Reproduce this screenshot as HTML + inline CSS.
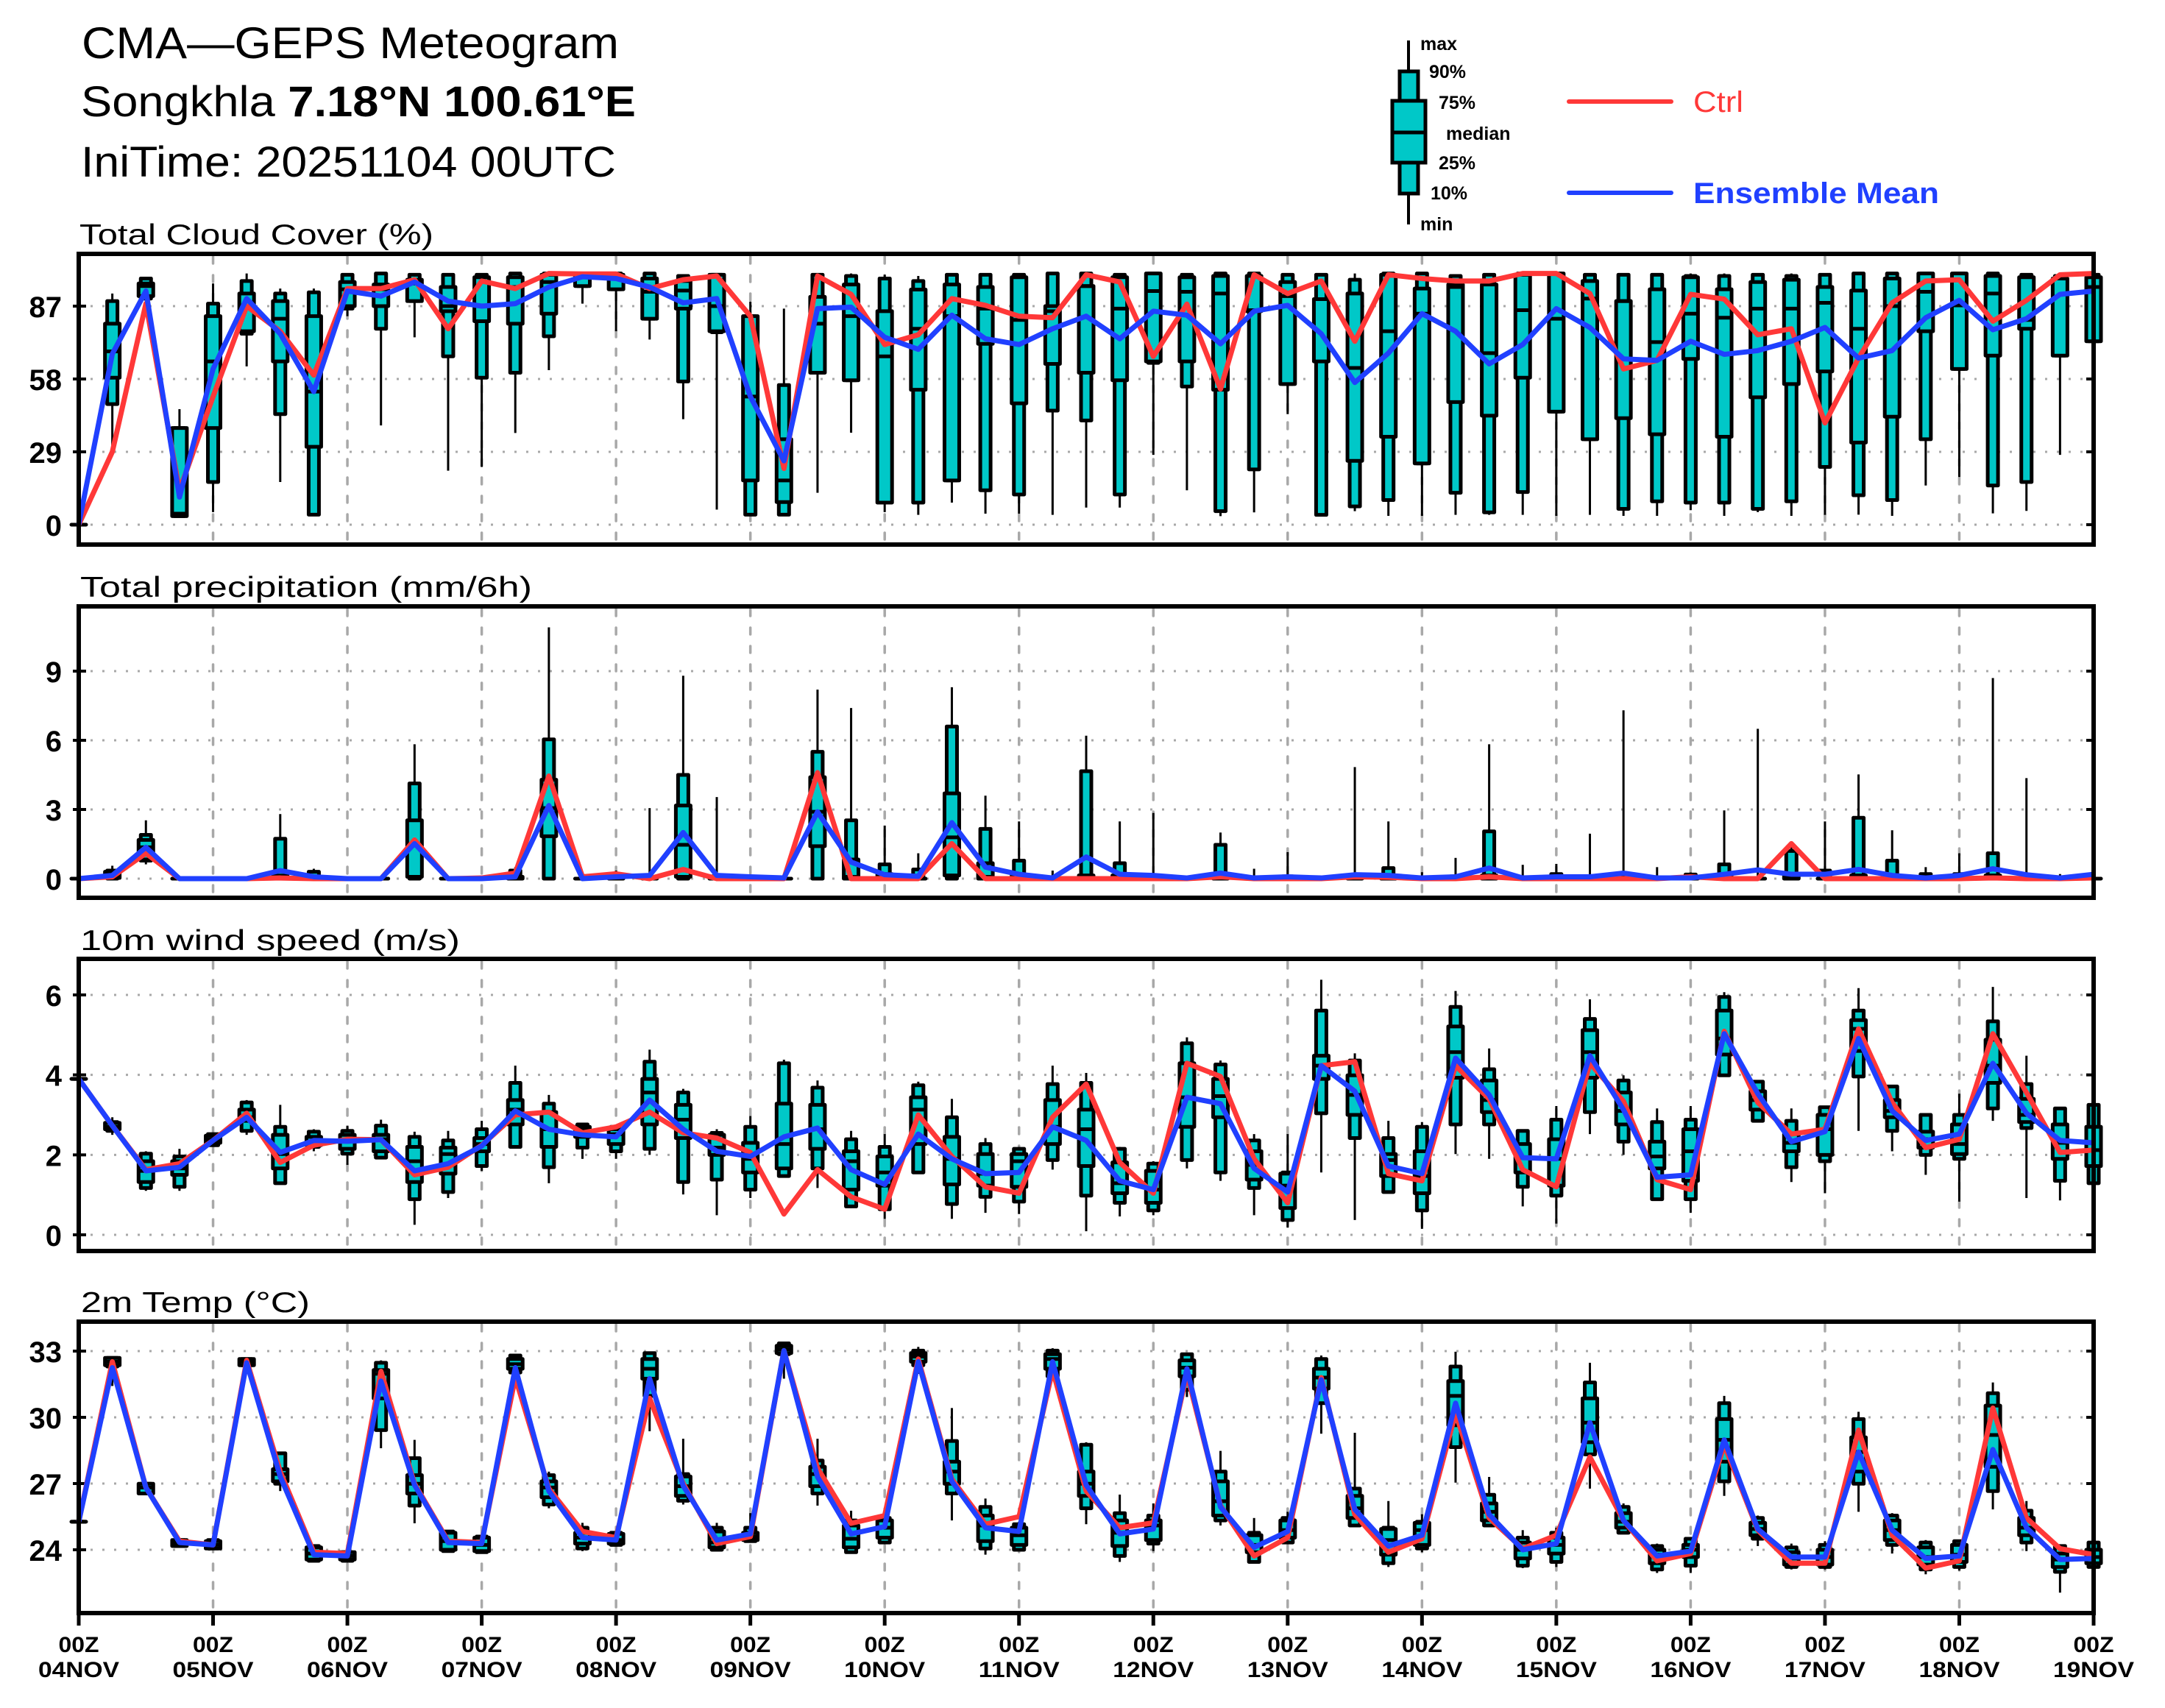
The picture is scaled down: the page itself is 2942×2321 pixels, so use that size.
<!DOCTYPE html>
<html>
<head>
<meta charset="utf-8">
<style>
html,body{margin:0;padding:0;background:#fff;}
svg{display:block;}
text{font-family:"Liberation Sans",sans-serif;}
</style>
</head>
<body>
<svg id="chart" xmlns="http://www.w3.org/2000/svg" width="2942" height="2321" viewBox="0 0 2942 2321">
<rect x="0" y="0" width="2942" height="2321" fill="#fff"/>
<text x="111" y="79" font-size="60" textLength="730" lengthAdjust="spacingAndGlyphs">CMA—GEPS  Meteogram</text>
<text x="110" y="158" font-size="58" textLength="754" lengthAdjust="spacingAndGlyphs">Songkhla <tspan font-weight="bold">7.18°N 100.61°E</tspan></text>
<text x="110" y="240" font-size="58" textLength="727" lengthAdjust="spacingAndGlyphs">IniTime: 20251104 00UTC</text>
<text x="108" y="332" font-size="39" textLength="481" lengthAdjust="spacingAndGlyphs">Total Cloud Cover (%)</text>
<text x="109" y="811" font-size="39" textLength="614" lengthAdjust="spacingAndGlyphs">Total precipitation (mm/6h)</text>
<text x="109" y="1291" font-size="39" textLength="516" lengthAdjust="spacingAndGlyphs">10m wind speed (m/s)</text>
<text x="110" y="1783" font-size="39" textLength="311" lengthAdjust="spacingAndGlyphs">2m Temp (°C)</text>
<g>
  <line x1="1914" y1="55" x2="1914" y2="305" stroke="#000" stroke-width="4"/>
  <rect x="1902" y="97" width="25" height="166" fill="#00c8c8" stroke="#000" stroke-width="5"/>
  <rect x="1892" y="137" width="45" height="84" fill="#00c8c8" stroke="#000" stroke-width="5"/>
  <line x1="1892" y1="180" x2="1937" y2="180" stroke="#000" stroke-width="5"/>
  <text x="1930" y="68" font-size="25" font-weight="bold">max</text>
  <text x="1942" y="106" font-size="25" font-weight="bold">90%</text>
  <text x="1955" y="148" font-size="25" font-weight="bold">75%</text>
  <text x="1965" y="190" font-size="25" font-weight="bold">median</text>
  <text x="1955" y="230" font-size="25" font-weight="bold">25%</text>
  <text x="1944" y="271" font-size="25" font-weight="bold">10%</text>
  <text x="1930" y="313" font-size="25" font-weight="bold">min</text>
</g>
<g>
  <line x1="2132" y1="138" x2="2271" y2="138" stroke="#ff3838" stroke-width="6" stroke-linecap="round"/>
  <text x="2301" y="152" font-size="40" fill="#ff3838" textLength="68" lengthAdjust="spacingAndGlyphs">Ctrl</text>
  <line x1="2132" y1="262" x2="2271" y2="262" stroke="#2040ff" stroke-width="6" stroke-linecap="round"/>
  <text x="2301" y="276" font-size="40" fill="#2040ff" font-weight="bold" textLength="334" lengthAdjust="spacingAndGlyphs">Ensemble Mean</text>
</g>
</svg>
<script>
// ---------- time axis ----------
const dayLabels = ["04NOV","05NOV","06NOV","07NOV","08NOV","09NOV","10NOV","11NOV","12NOV","13NOV","14NOV","15NOV","16NOV","17NOV","18NOV","19NOV"];
// ---------- cloud cover (%) ----------
const cloudTicks = [0,29,58,87];
const cloudMax = [0,92,98.5,46,96,100,94,94,100,100, 100,100,100,100,100,100,100,100,99.5,100, 88.8,86,100,100,99.5,99,100,100,100,100, 100,100,100,100,100,100,100,100,100,100, 100,99.7,100,100,100,100,100,100,100,100, 100,100,100,100,100,100,100,100,100,100,100];
const cloudP90 = [0,89,98,38.5,88,97,92,92.5,99.5,100, 99.5,99.5,99.5,100,100,100,100,100,99,99.5, 83,55.6,99.5,99,98,97,99.5,99.5,99.5,100, 100,99.5,100,99.5,100,100,99.5,99.5,97.5,100, 100,99,99.5,100,100,99.5,99.5,99.5,99,99, 99.5,99,99.5,100,100,100,100,100,99.5,99,99.5];
const cloudP75 = [0,80,96,38.5,83,92,89,83,96.6,95.6, 97.5,94.6,98.5,98.5,99.5,99.5,99.5,98,97,99.5, 83,34,90.7,95.6,85,93.6,95.6,94.6,98.5,87, 95,98.5,100,98.5,99,99,96.6,89.8,92,99.5, 94,95.6,95.6,99.5,100,97,89,93.7,98.5,93.7, 96.6,97.5,94.6,93.2,98,100,100,99,98.5,98,98.5];
const cloudMed = [0,69,95,4.4,65,87,82,53,93.7,93.7, 96,87,87,94.6,96.6,98.5,98.5,92.7,93.2,87, 51,17.6,80,83,67,78,83,86,81.5,85, 95,86,93,92.7,92,85.4,91,89.8,62.4,77, 84,94.6,68.3,85.4,82,90,89,72.7,84,82.4, 86,86,88.3,78,87,92.7,87.3,92,81.5,98,94.6];
const cloudP25 = [0,58.5,91,3.4,38.5,77,65,31,87,87, 89,85,81,80,84,95,93.7,82,86,77, 17.6,9,60.5,57.5,8.8,53.7,17.6,72,48.3,64, 60.5,57.5,65,65,53.7,85,56,65,25.4,35, 24.4,48.8,43.4,58.5,45,34,42.4,36,66,35, 50.7,56,61,32.7,43,77,62,67.3,78,67.3,73];
const cloudP10 = [0,48,90,3.4,17,76,44,4,86,78, 89,67,58.5,60.5,75,95,93.7,82,57,76.6, 4,4,60.5,57.5,8.8,8.8,17.6,13.7,12,45.4, 41.5,12,64.4,55,5.4,22,56,3.9,7.3,9.8, 24.4,12.7,4.9,13,45,34,6.3,9.3,8.8,8.8, 6.3,9.3,23,11.7,9.8,34,62,15.6,17,67.3,73];
const cloudMin = [0,30,87,3,5,63,17,3.4,83,39.5, 74.6,21.5,23,36.5,61.5,88,77,73.7,42,6, 3.4,3.4,12.7,36.6,5,3.9,8.8,4.4,4.4,3.9, 6.8,6.8,27.8,13.7,3.4,4.9,44,3.5,5.4,3.5, 3.5,3.9,3.9,3.9,3.5,3.9,3.5,3.5,5.8,3.5, 5,3.5,3.9,4,3.5,15.6,19,4.5,5.5,27.8,73];
const cloudCtrl = [0,29,88,13.6,51,87,77,59.5,94,94, 97.5,78,97,94,100,99.8,99.8,94,97.5,99, 83,22.4,99,91.7,71.7,75.6,90,87.3,83,82.4, 99.5,96.6,67,87.8,54,99.5,92,97,73,99.5, 98,97,97,100,100,92,62,65.4,91.7,89.8, 75.6,78,40.5,66.3,88.3,97,97.5,81,89.3,99.5,100];
const cloudMean = [0,68,93,11,62,90,76,53,93,91, 96.6,89,87,88,94.6,98.7,98,94.6,88.3,90, 51,25.4,86,86.6,74.6,69.8,83.4,74,71.7,78, 83,74,85,83.4,72,85,87.3,76,56.6,68.3, 84,77,64,71.7,86,78.5,66,65.4,73,67.8, 69.3,73,78.5,66.3,69.3,82.4,89.3,77.6,82,91.7,93];
// ---------- precipitation (mm/6h) ----------
const precipTicks = [0,3,6,9];
const precipMax = [0,0.56,2.53,0,0,0,2.8,0.43,0,0, 5.83,0,0,0.5,10.9,0,0.35,3.06,8.8,3.54, 0,0.1,8.2,7.4,2.3,1.1,8.3,3.6,2.48,0.35, 6.2,2.48,2.85,0.03,2.0,0.43,1.15,0,4.84,2.48, 0.28,0.9,5.83,0.6,0.64,1.95,7.3,0.5,0.27,2.96, 6.5,1.4,2.48,4.52,2.1,0.5,1.1,8.7,4.36,0.2,0];
const precipP90 = [0,0.35,1.9,0,0,0,1.73,0.3,0,0, 4.13,0,0,0.35,6.04,0,0,0.05,4.5,0.1, 0,0,5.5,2.53,0.62,0.4,6.6,2.16,0.78,0, 4.66,0.67,0,0,1.47,0,0.1,0,0.15,0.46, 0,0.1,2.05,0,0.2,0,0.08,0,0.18,0.62, 0,1.2,0.35,2.64,0.78,0.2,0.2,1.1,0.03,0,0];
const precipP75 = [0,0.3,1.68,0,0,0,0.13,0,0,0, 2.53,0,0,0.08,4.29,0,0,0,3.17,0, 0,0,4.4,0.83,0.2,0,3.7,0.67,0.14,0, 0.14,0.14,0,0,0.14,0,0,0,0,0.14, 0,0,0.14,0,0,0,0,0,0,0.14, 0,0.1,0,0.14,0,0,0,0.14,0,0,0];
const precipMed = [0,0.08,1.36,0,0,0,0.03,0,0,0, 1.47,0,0,0,3.06,0,0,0,1.47,0, 0,0,2.9,0.08,0,0,1.79,0.08,0,0, 0.03,0,0,0,0,0,0,0,0,0, 0,0,0,0,0,0,0,0,0,0, 0,0,0,0,0,0,0,0,0,0,0];
const precipP25 = [0,0.03,0.83,0,0,0,0,0,0,0, 0.08,0,0,0,1.84,0,0,0,0.08,0, 0,0,1.41,0,0,0,0.14,0,0,0, 0,0,0,0,0,0,0,0,0,0, 0,0,0,0,0,0,0,0,0,0, 0,0,0,0,0,0,0,0,0,0,0];
const precipP10 = [0,0,0.78,0,0,0,0,0,0,0, 0,0,0,0,0,0,0,0,0,0, 0,0,0,0,0,0,0,0,0,0, 0,0,0,0,0,0,0,0,0,0, 0,0,0,0,0,0,0,0,0,0, 0,0,0,0,0,0,0,0,0,0,0];
const precipMin = [0,0,0.62,0,0,0,0,0,0,0, 0,0,0,0,0,0,0,0,0,0, 0,0,0,0,0,0,0,0,0,0, 0,0,0,0,0,0,0,0,0,0, 0,0,0,0,0,0,0,0,0,0, 0,0,0,0,0,0,0,0,0,0,0];
const precipCtrl = [0,0.08,1.1,0,0,0,0.03,0,0,0, 1.68,0,0.03,0.24,4.45,0.08,0.21,0,0.4,0, 0,0,4.6,0,0,0,1.52,0,0,0, 0,0,0,0,0.08,0,0,0,0.08,0.06, 0,0,0.08,0,0,0,0,0,0.08,0, 0,1.52,0,0,0,0,0,0.03,0,0,0.03];
const precipMean = [0,0.14,1.36,0,0,0,0.35,0.08,0,0, 1.52,0,0,0.08,3.17,0,0.08,0.14,2.0,0.14, 0.08,0.03,2.9,0.72,0.17,0.1,2.43,0.5,0.19,0.03, 0.94,0.19,0.14,0.03,0.24,0.03,0.08,0.03,0.17,0.14, 0.03,0.08,0.46,0.03,0.08,0.08,0.24,0.03,0.03,0.19, 0.38,0.19,0.19,0.4,0.14,0.03,0.14,0.43,0.17,0.03,0.19];
// ---------- 10m wind (m/s) ----------
const windTicks = [0,2,4,6];
const windMax = [3.9,2.94,2.09,2.15,2.55,3.37,3.25,2.64,2.73,2.88, 2.58,2.6,2.85,4.23,3.5,2.8,2.73,4.63,3.65,2.64, 2.97,4.38,3.86,2.6,2.52,3.83,3.4,2.42,2.2,4.23, 4.05,2.2,1.84,4.94,4.36,2.52,2.52,6.38,4.54,2.85, 2.82,6.1,4.66,2.64,3.22,5.89,3.99,3.16,3.22,6.07, 3.86,3.16,3.22,6.17,3.74,3.04,3.53,6.2,4.48,3.19,3.31];
const windP90 = [3.9,2.82,2.03,1.96,2.52,3.31,2.7,2.58,2.6,2.73, 2.45,2.36,2.64,3.8,3.28,2.76,2.7,4.33,3.56,2.55, 2.7,4.29,3.68,2.39,2.2,3.74,2.94,2.27,2.15,3.77, 3.8,2.15,1.78,4.79,4.26,2.36,1.56,5.61,4.36,2.42, 2.7,5.7,4.14,2.6,2.88,5.4,3.86,2.82,2.88,5.95, 3.83,2.85,3.19,5.61,3.71,3.0,3.0,5.34,3.77,3.16,3.25];
const windP75 = [3.9,2.8,1.84,1.84,2.48,3.13,2.5,2.45,2.5,2.5, 2.2,2.18,2.42,3.37,3.07,2.7,2.64,3.9,3.25,2.5, 2.3,3.28,3.25,2.09,1.96,3.44,2.45,2.02,2.02,3.37, 3.13,1.81,1.6,4.29,3.9,2.09,1.53,4.48,3.99,2.02, 2.09,5.21,3.86,2.27,2.39,5.12,3.56,2.33,2.64,5.61, 3.59,2.52,3.0,5.37,3.37,2.58,2.76,4.88,3.4,2.76,2.7];
const windMed = [3.9,2.7,1.6,1.66,2.39,2.94,2.02,2.3,2.36,2.39, 1.84,2.02,2.27,3.13,2.64,2.64,2.52,3.56,2.88,2.18, 1.9,2.27,2.64,1.84,1.56,3.13,1.9,1.53,1.84,2.7, 2.64,1.29,1.13,3.44,3.47,1.75,1.23,4.23,3.5,1.87, 1.47,4.57,3.37,1.93,1.9,4.57,3.1,1.96,2.09,4.91, 3.37,2.3,2.64,5.15,3.1,2.39,2.27,4.23,3.0,2.3,2.12];
const windP25 = [3.9,2.64,1.32,1.5,2.3,2.85,1.66,2.24,2.15,2.09, 1.32,1.53,2.09,2.76,2.2,2.45,2.27,2.76,2.42,2.0, 1.56,1.66,2.15,1.13,1.23,2.27,1.26,1.23,1.2,2.27, 1.72,1.04,0.8,2.7,2.94,1.38,0.67,3.9,3.0,1.47, 1.04,3.93,3.07,1.56,1.23,3.93,2.76,1.66,1.35,4.51, 3.13,2.09,2.0,4.6,2.94,2.18,2.02,3.8,2.82,1.9,1.72];
const windP10 = [3.9,2.6,1.17,1.2,2.24,2.6,1.29,2.2,2.03,1.93, 0.89,1.07,1.72,2.2,1.69,2.18,2.09,2.15,1.32,1.38, 1.13,1.47,1.66,0.71,0.64,1.56,0.77,0.95,0.83,1.87, 0.98,0.8,0.61,1.87,1.56,1.17,0.37,3.04,2.42,1.07, 0.61,2.76,2.76,1.2,0.98,3.07,2.33,0.89,0.89,3.99, 2.85,1.69,1.84,3.96,2.6,2.0,1.9,3.16,2.67,1.35,1.29];
const windMin = [3.9,2.5,1.1,1.1,2.24,2.5,1.29,2.09,1.75,1.9, 0.25,0.92,1.6,2.18,1.29,1.9,1.9,2.0,1.01,0.49, 0.92,1.47,1.17,0.67,0.4,1.56,0.4,0.55,0.52,1.63, 0.09,0.46,0.49,1.66,1.35,0.49,0.18,1.56,0.37,1.07, 0.15,2.02,1.9,0.71,0.28,2.52,2.0,0.86,0.55,3.96, 2.83,1.32,1.04,2.6,2.09,1.5,0.83,2.85,0.92,0.86,1.29];
const windCtrl = [3.9,2.73,1.63,1.78,2.36,3.04,1.81,2.24,2.39,2.38, 1.5,1.69,2.24,3.0,3.07,2.55,2.7,3.07,2.55,2.42, 2.06,0.52,1.63,0.95,0.64,3.0,1.96,1.2,1.04,2.94, 3.77,1.81,1.04,4.29,3.96,1.9,0.8,4.23,4.33,1.53, 1.35,4.23,3.4,1.63,1.2,4.29,3.34,1.38,1.13,5.09, 3.31,2.52,2.64,5.15,3.31,2.18,2.39,5.03,3.56,2.06,2.12];
const windMean = [3.9,2.73,1.6,1.69,2.36,2.94,2.06,2.36,2.34,2.38, 1.6,1.78,2.22,3.1,2.64,2.5,2.45,3.37,2.64,2.09, 1.96,2.45,2.67,1.63,1.26,2.52,1.9,1.53,1.56,2.7, 2.36,1.35,1.13,3.44,3.28,1.66,1.07,4.23,3.59,1.72, 1.53,4.42,3.5,1.93,1.9,4.48,3.13,1.44,1.5,5.03, 3.53,2.33,2.58,4.91,3.1,2.36,2.52,4.29,3.04,2.36,2.3];
// ---------- 2m temperature (°C) ----------
const tempTicks = [24,27,30,33];
const tempMax = [25.27,32.75,27.04,24.5,24.5,32.69,28.43,24.22,23.94,32.58, 28.98,24.89,24.66,32.86,27.54,25.22,24.83,32.97,29.03,25.22, 25.66,33.4,29.03,25.77,25.66,33.19,30.42,26.32,25.27,33.13, 28.87,26.5,26.1,32.9,28.48,25.44,25.72,32.8,29.3,26.21, 25.61,32.97,27.3,24.89,25.0,32.47,26.1,24.28,24.55,30.97, 25.55,24.28,24.39,30.25,25.66,24.44,24.44,31.58,26.21,24.22,24.5];
const tempP90 = [25.27,32.69,26.99,24.44,24.44,32.64,28.37,24.17,23.89,32.47, 28.15,24.83,24.6,32.8,27.38,25.0,24.77,32.91,27.43,25.0, 25.0,33.35,28.04,25.33,25.44,33.02,28.93,25.94,25.16,33.02, 28.76,25.66,25.55,32.86,27.54,24.77,25.44,32.64,26.77,25.0, 25.27,32.3,26.49,24.55,24.77,31.58,25.94,24.17,24.5,30.64, 25.44,24.11,24.22,29.92,25.55,24.33,24.39,31.09,25.77,24.17,24.33];
const tempP75 = [25.27,32.69,26.99,24.44,24.39,32.64,27.65,24.11,23.89,32.14, 27.38,24.77,24.55,32.64,27.1,24.77,24.72,32.64,27.32,24.83, 24.77,33.24,27.76,25.1,25.33,32.91,27.99,25.55,25.0,32.86, 27.54,25.33,25.33,32.58,27.1,24.66,25.33,32.2,26.44,24.94, 25.22,31.64,26.1,24.33,24.55,30.86,25.66,24.0,24.22,29.92, 25.22,23.89,24.0,29.09,25.33,24.11,24.22,30.53,25.44,23.83,24.0];
const tempMed = [25.27,32.52,26.82,24.33,24.22,32.52,27.43,23.83,23.72,31.97, 26.99,24.39,24.22,32.41,26.82,24.55,24.44,32.2,26.88,24.33, 24.6,33.08,27.43,24.5,25.0,32.75,27.54,25.1,24.66,32.64, 26.99,24.77,25.1,32.25,26.2,24.22,24.89,31.8,25.88,24.44, 24.89,30.97,25.72,24.0,24.22,29.76,25.27,23.78,24.0,28.98, 24.94,23.61,23.67,28.43,24.89,23.67,23.78,29.2,25.0,23.56,23.67];
const tempP25 = [25.27,32.36,26.55,24.17,24.06,32.36,27.1,23.56,23.56,30.86, 26.55,24.0,23.94,32.2,26.38,24.28,24.28,31.75,26.44,24.11, 24.44,32.91,26.88,24.11,24.55,32.52,26.99,24.39,24.22,32.2, 26.44,24.17,24.44,31.86,25.55,23.89,24.55,31.3,25.44,23.78, 24.22,29.64,25.33,23.61,23.83,28.87,25.0,23.39,23.67,27.99, 24.66,23.33,23.33,27.54,24.44,23.33,23.45,27.76,24.66,23.22,23.39];
const tempP10 = [25.27,32.3,26.55,24.17,24.06,32.36,26.99,23.5,23.5,29.42, 26.0,23.94,23.89,32.03,26.05,24.06,24.22,30.97,26.22,24.0, 24.39,32.86,26.55,23.89,24.33,32.36,26.55,24.06,24.0,31.86, 25.88,23.72,24.28,31.25,25.33,23.45,24.33,30.64,25.1,23.39, 24.06,28.65,25.1,23.28,23.45,28.32,24.77,23.11,23.28,27.1, 24.5,23.22,23.22,26.99,24.22,23.11,23.22,26.66,24.33,23.0,23.22];
const tempMin = [25.27,31.42,26.49,24.11,24.0,32.3,26.66,23.45,23.45,28.6, 25.2,23.89,23.83,31.64,25.88,23.94,24.17,29.37,26.05,23.94, 24.39,31.75,26.0,23.83,24.28,31.97,25.33,23.78,23.94,31.7, 25.16,23.45,23.94,30.92,25.1,23.39,24.28,29.26,25.05,23.22, 23.89,27.04,25.05,23.17,23.22,26.77,24.72,22.95,22.95,26.44, 24.17,23.11,23.11,25.72,23.83,22.89,23.06,25.83,23.94,22.06,23.0];
const tempCtrl = [25.27,32.52,26.82,24.39,24.22,32.58,27.54,23.89,23.83,32.08, 26.99,24.39,24.33,31.8,26.77,24.83,24.55,30.86,27.0,24.28, 24.6,33.02,27.7,25.2,25.55,32.64,27.2,25.16,25.5,32.14, 26.66,25.0,25.22,31.97,26.0,23.72,24.55,31.8,25.6,23.89, 24.5,30.2,25.44,24.05,24.66,28.2,25.33,23.5,23.83,28.76, 24.89,23.39,23.39,29.42,24.66,23.17,23.5,30.42,25.44,24.05,23.78];
const tempMean = [25.27,32.25,26.82,24.33,24.22,32.47,27.32,23.78,23.72,31.64, 26.93,24.33,24.28,32.25,26.66,24.55,24.44,31.75,26.9,24.44, 24.72,33.02,27.3,24.72,25.05,32.52,27.1,25.0,24.83,32.52, 26.93,24.72,24.94,32.2,25.94,24.11,24.83,31.7,25.83,24.17, 24.66,30.64,25.6,24.0,24.28,29.76,25.33,23.72,23.94,28.98, 24.94,23.67,23.67,28.43,24.89,23.61,23.72,28.54,25.0,23.56,23.61];

// ---------- layout ----------
const NS = "http://www.w3.org/2000/svg";
const svg = document.getElementById('chart');
const X0 = 107, X1 = 2845, NSTEP = 60;
function xAt(i){ return X0 + (X1 - X0) * i / NSTEP; }
function linScale(v0, y0, v1, y1){ return function(v){ return y0 + (v - v0) * (y1 - y0) / (v1 - v0); }; }
function mk(tag, attrs, parent){
  const el = document.createElementNS(NS, tag);
  for (const k in attrs) el.setAttribute(k, attrs[k]);
  (parent || svg).appendChild(el);
  return el;
}

const panels = [
  {key:'cloud', top:345, bottom:740, y:linScale(0,713,87,416), ticks:cloudTicks,
   mn:cloudMin,p10:cloudP10,p25:cloudP25,med:cloudMed,p75:cloudP75,p90:cloudP90,mx:cloudMax,ctrl:cloudCtrl,mean:cloudMean},
  {key:'precip', top:824, bottom:1220, y:linScale(0,1194,9,912), ticks:precipTicks,
   mn:precipMin,p10:precipP10,p25:precipP25,med:precipMed,p75:precipP75,p90:precipP90,mx:precipMax,ctrl:precipCtrl,mean:precipMean},
  {key:'wind', top:1303, bottom:1700, y:linScale(0,1678,6,1352), ticks:windTicks,
   mn:windMin,p10:windP10,p25:windP25,med:windMed,p75:windP75,p90:windP90,mx:windMax,ctrl:windCtrl,mean:windMean},
  {key:'temp', top:1796, bottom:2192, y:linScale(24,2106,33,1836), ticks:tempTicks,
   mn:tempMin,p10:tempP10,p25:tempP25,med:tempMed,p75:tempP75,p90:tempP90,mx:tempMax,ctrl:tempCtrl,mean:tempMean}
];

function boxPath(x, w, ya, yb){
  return 'M' + (x - w) + ' ' + ya + ' H' + (x + w) + ' V' + yb + ' H' + (x - w) + ' Z';
}

panels.forEach(function(p){
  const g = mk('g', {});
  
  

  p.ticks.forEach(function(t){
    const yy = p.y(t);
    const gl = mk('line', {x1:X0, y1:yy, x2:X1, y2:yy, stroke:'#a8a8a8', 'stroke-width':3, 'stroke-dasharray':'3 13'}, g);
    
    
    const tk = mk('line', {x1:X0 - 8, y1:yy, x2:X0 + 10, y2:yy, stroke:'#000', 'stroke-width':4}, g);
    
    
    const tr = mk('line', {x1:X1 - 10, y1:yy, x2:X1, y2:yy, stroke:'#000', 'stroke-width':4}, g);
    
    
    const lb = mk('text', {x:84, y:yy + 15, 'font-size':40, 'font-weight':'bold', 'text-anchor':'end'}, g);
    lb.textContent = String(t);
    
    
  });
  for (let d = 1; d < dayLabels.length - 1; d++){
    const xx = xAt(d * 4);
    const vl = mk('line', {x1:xx, y1:p.top + 4, x2:xx, y2:p.bottom - 4, stroke:'#a8a8a8', 'stroke-width':3.5, 'stroke-dasharray':'9 16', 'stroke-linecap':'round'}, g);
    
    
  }
  for (let i = 0; i <= NSTEP; i++){
    const xx = xAt(i);
    const bg = mk('g', {}, g);
    
    
    const wh = mk('line', {x1:xx, y1:p.y(p.mn[i]), x2:xx, y2:p.y(p.mx[i]), stroke:'#000', 'stroke-width':3}, bg);
    
    
    const ob = mk('path', {d:boxPath(xx, 7, p.y(p.p90[i]), p.y(p.p10[i])), fill:'#00c8c8', stroke:'#000', 'stroke-width':5, 'stroke-linejoin':'round'}, bg);
    
    
    const ib = mk('path', {d:boxPath(xx, 10, p.y(p.p75[i]), p.y(p.p25[i])), fill:'#00c8c8', stroke:'#000', 'stroke-width':5, 'stroke-linejoin':'round'}, bg);
    
    
    const md = mk('line', {x1:xx - 10, y1:p.y(p.med[i]), x2:xx + 10, y2:p.y(p.med[i]), stroke:'#000', 'stroke-width':5}, bg);
    
    
  }
  const ctrlPts = p.ctrl.map(function(v, i){ return xAt(i) + ',' + p.y(v); }).join(' ');
  const cl = mk('polyline', {points:ctrlPts, fill:'none', stroke:'#ff3838', 'stroke-width':7, 'stroke-linejoin':'round'}, g);
  
  
  const meanPts = p.mean.map(function(v, i){ return xAt(i) + ',' + p.y(v); }).join(' ');
  const ml = mk('polyline', {points:meanPts, fill:'none', stroke:'#2040ff', 'stroke-width':7, 'stroke-linejoin':'round'}, g);
  
  
  const fr = mk('rect', {x:X0, y:p.top, width:X1 - X0, height:p.bottom - p.top, fill:'none', stroke:'#000', 'stroke-width':6}, g);
  
  
});

const bottomY = 2192;
for (let d = 0; d < dayLabels.length; d++){
  const xx = xAt(d * 4);
  const tk = mk('line', {x1:xx, y1:bottomY, x2:xx, y2:bottomY + 17, stroke:'#000', 'stroke-width':5});
  
  
  const t1 = mk('text', {x:xx, y:2245, 'font-size':30, 'font-weight':'bold', 'text-anchor':'middle', textLength:55, lengthAdjust:'spacingAndGlyphs'});
  t1.textContent = '00Z';
  
  
  const t2 = mk('text', {x:xx, y:2279, 'font-size':30, 'font-weight':'bold', 'text-anchor':'middle', textLength:110, lengthAdjust:'spacingAndGlyphs'});
  t2.textContent = dayLabels[d];
  
  
}
</script>
</body>
</html>
